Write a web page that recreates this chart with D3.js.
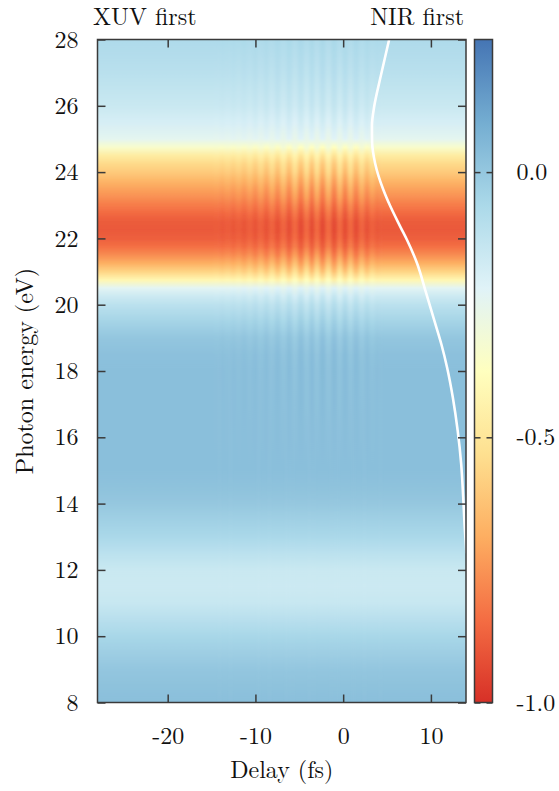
<!DOCTYPE html>
<html>
<head>
<meta charset="utf-8">
<script src="https://cdn.jsdelivr.net/npm/d3@7"></script>
<style>
  body { margin: 0; background: #fff; }
</style>
</head>
<body>
<div id="chart"></div>
<script>
// photon energy samples (eV) and the map value away from the pulse overlap
var energies = [8, 8.5, 9, 9.5, 10, 10.5, 11, 11.5, 12, 12.5, 13, 13.5, 14, 14.5, 15,
  16, 17, 18, 18.5, 19, 19.5, 20, 20.25, 20.5, 20.75, 21, 21.25, 21.5, 21.75, 22,
  22.25, 22.5, 22.75, 23, 23.25, 23.5, 23.75, 24, 24.25, 24.5, 24.75, 25, 25.5, 26, 27, 28];
var baseline = [0.03, 0.02, 0.005, -0.025, -0.055, -0.10, -0.145, -0.16, -0.15, -0.11, -0.06, -0.03, 0.0, 0.02, 0.03,
  0.03, 0.03, 0.03, 0.025, 0.005, -0.045, -0.11, -0.16, -0.23, -0.42, -0.57, -0.68, -0.77, -0.84, -0.88,
  -0.895, -0.89, -0.855, -0.81, -0.76, -0.714, -0.66, -0.6, -0.55, -0.47, -0.34, -0.24, -0.19, -0.15, -0.105, -0.07];
// how strongly each energy row follows the sub-cycle fringes
var fringeWeight = [0, 0, 0, 0, 0, 0, 0, 0, 0, 0, 0, 0, 0, 0, 0,
  -0.005, -0.01, -0.015, -0.018, -0.02, -0.022, -0.025, -0.028, -0.022, 0.04, 0.06, 0.06, 0.055, 0.045, 0.04,
  0.04, 0.04, 0.045, 0.05, 0.055, 0.06, 0.06, 0.06, 0.055, 0.045, 0.035, -0.022, -0.022, -0.02, -0.016, -0.012];

// fringe stripes (delay in fs, light = +, dark = -)
var fringeDelays = [-14.45, -13.82, -13.18, -12.55, -11.91, -11.28, -10.64, -10.0, -9.37, -8.74,
  -8.1, -7.47, -6.83, -6.15, -5.5, -4.82, -4.15, -3.57, -3.0, -2.35,
  -1.7, -1.02, -0.37, 0.22, 0.8, 1.46, 2.12, 2.7, 3.28, 3.9];
var fringeValues = [0.1, -0.12, 0.15, -0.18, 0.22, -0.27, 0.33, -0.38, 0.45, -0.5,
  0.58, -0.62, 0.72, -0.75, 0.85, -0.88, 0.95, -0.95, 1.0, -1.0,
  1.0, -1.0, 0.95, -0.92, 0.88, -0.8, 0.7, -0.55, 0.45, -0.15];

// white curve
var curveDelay = [5.24, 4.2, 3.55, 3.28, 3.3, 3.64, 4.59, 5.39, 6.52, 7.28, 8.42, 9.4, 10.3, 11.2, 11.85, 12.5, 13.05, 13.45, 13.68, 13.85, 14.05];
var curveEnergy = [28, 26.8, 26.0, 25.4, 24.9, 24.27, 23.46, 22.96, 22.35, 21.95, 21.25, 20.4, 19.6, 18.8, 18.1, 17.2, 16.2, 15.2, 14.2, 13.3, 12.5];

var xTicks = [-20, -10, 0, 10];
var yTicks = [8, 10, 12, 14, 16, 18, 20, 22, 24, 26, 28];
var cbTicks = [-1.0, -0.5, 0.0];

var W = 559, H = 791;
var plot = { left: 97.5, right: 466, top: 39.5, bottom: 702.5 };
var cb = { left: 474.5, right: 492.5 };
var FONT = "'Latin Modern Roman', 'Liberation Serif', serif";

var svg = d3.select("#chart").append("svg")
  .attr("width", W).attr("height", H);
var defs = svg.append("defs");

var x = d3.scaleLinear().domain([-28, 14]).range([plot.left, plot.right]);
var y = d3.scaleLinear().domain([8, 28]).range([plot.bottom, plot.top]);

// RdYlBu spread over the colorbar range
var cbDomain = [-1.0, 0.25];
var cols = d3.schemeRdYlBu[9];
var color = d3.scaleLinear()
  .domain(cols.map(function(c, i) { return cbDomain[0] + i * (cbDomain[1] - cbDomain[0]) / 8; }))
  .range(cols)
  .clamp(true);

// columns: plain ones outside the fringe region, one per stripe inside
var columns = [];
var n = fringeDelays.length;
var halfStep = (fringeDelays[1] - fringeDelays[0]) / 2;
var firstEdge = fringeDelays[0] - halfStep;
var lastEdge = fringeDelays[n - 1] + halfStep;
columns.push({ x0: -30, x1: firstEdge, f: 0 });
for (var i = 0; i < n; i++) {
  var a = i == 0 ? firstEdge : (fringeDelays[i - 1] + fringeDelays[i]) / 2;
  var b = i == n - 1 ? lastEdge : (fringeDelays[i] + fringeDelays[i + 1]) / 2;
  columns.push({ x0: a, x1: b, f: fringeValues[i] });
}
columns.push({ x0: lastEdge, x1: 16, f: 0 });

// gradient runs top (28 eV) to bottom (8 eV), so stops go in reverse energy order
var rowOrder = d3.range(energies.length).reverse();
columns.forEach(function(c, j) {
  var g = defs.append("linearGradient")
    .attr("id", "col" + j)
    .attr("gradientUnits", "userSpaceOnUse")
    .attr("x1", 0).attr("x2", 0)
    .attr("y1", y(28)).attr("y2", y(8));
  rowOrder.forEach(function(k) {
    g.append("stop")
      .attr("offset", (y(energies[k]) - y(28)) / (y(8) - y(28)))
      .attr("stop-color", color(baseline[k] + c.f * fringeWeight[k]));
  });
});

defs.append("clipPath").attr("id", "plotClip")
  .append("rect")
  .attr("x", plot.left).attr("y", plot.top)
  .attr("width", plot.right - plot.left).attr("height", plot.bottom - plot.top);

var blur = defs.append("filter").attr("id", "hblur")
  .attr("x", "-5%").attr("y", "0%").attr("width", "110%").attr("height", "100%");
blur.append("feGaussianBlur").attr("stdDeviation", "1.8 0");

var map = svg.append("g").attr("clip-path", "url(#plotClip)");
map.append("g").attr("filter", "url(#hblur)")
  .selectAll("rect")
  .data(columns)
  .enter().append("rect")
  .attr("x", function(d) { return x(d.x0); })
  .attr("width", function(d) { return x(d.x1) - x(d.x0) + 0.6; })
  .attr("y", y(28))
  .attr("height", y(8) - y(28))
  .attr("fill", function(d, j) { return "url(#col" + j + ")"; });

// white curve
var curvePts = curveDelay.map(function(d, i) { return [d, curveEnergy[i]]; });
map.append("path")
  .datum(curvePts)
  .attr("fill", "none")
  .attr("stroke", "#fff")
  .attr("stroke-width", 2.6)
  .attr("d", d3.line()
    .x(function(d) { return x(d[0]); })
    .y(function(d) { return y(d[1]); })
    .curve(d3.curveMonotoneY));

// axes, ticks pointing inward
var fmt = function(d) { return String(d); };
var tickColor = "#3a3a3a";

function styleAxis(g) {
  g.attr("font-family", FONT);
  g.select(".domain").remove();
  g.selectAll(".tick line").attr("stroke", tickColor).attr("stroke-width", 1.5);
  g.selectAll("text").style("font-size", "24px").style("font-family", FONT).attr("fill", "#111");
}

svg.append("g")
  .attr("transform", "translate(" + plot.left + ",0)")
  .call(d3.axisLeft(y).tickValues(yTicks).tickFormat(fmt).tickSizeInner(-8).tickSizeOuter(0).tickPadding(19))
  .call(styleAxis);
svg.append("g")
  .attr("transform", "translate(" + plot.right + ",0)")
  .call(d3.axisRight(y).tickValues(yTicks).tickFormat("").tickSizeInner(-8).tickSizeOuter(0))
  .call(styleAxis);
svg.append("g")
  .attr("transform", "translate(0," + plot.bottom + ")")
  .call(d3.axisBottom(x).tickValues(xTicks).tickFormat(fmt).tickSizeInner(-8).tickSizeOuter(0).tickPadding(24))
  .call(styleAxis);
svg.append("g")
  .attr("transform", "translate(0," + plot.top + ")")
  .call(d3.axisTop(x).tickValues(xTicks).tickFormat("").tickSizeInner(-8).tickSizeOuter(0))
  .call(styleAxis);

svg.append("rect")
  .attr("x", plot.left).attr("y", plot.top)
  .attr("width", plot.right - plot.left).attr("height", plot.bottom - plot.top)
  .attr("fill", "none").attr("stroke", tickColor).attr("stroke-width", 1.5);

// colorbar
var cy = d3.scaleLinear().domain(cbDomain).range([plot.bottom, plot.top]);
var cbGrad = defs.append("linearGradient")
  .attr("id", "cbGrad")
  .attr("gradientUnits", "userSpaceOnUse")
  .attr("x1", 0).attr("x2", 0)
  .attr("y1", cy(cbDomain[1])).attr("y2", cy(cbDomain[0]));
color.domain().slice().reverse().forEach(function(v) {
  cbGrad.append("stop")
    .attr("offset", (cy(v) - cy(cbDomain[1])) / (cy(cbDomain[0]) - cy(cbDomain[1])))
    .attr("stop-color", color(v));
});
svg.append("rect")
  .attr("x", cb.left).attr("y", plot.top)
  .attr("width", cb.right - cb.left).attr("height", plot.bottom - plot.top)
  .attr("fill", "url(#cbGrad)");

var cbFmt = function(d) { return d3.format(".1f")(d).replace("\u2212", "-"); };
svg.append("g")
  .attr("transform", "translate(" + cb.right + ",0)")
  .call(d3.axisRight(cy).tickValues(cbTicks).tickFormat(cbFmt).tickSizeInner(-6).tickSizeOuter(0).tickPadding(24))
  .call(styleAxis);
svg.append("g")
  .attr("transform", "translate(" + cb.left + ",0)")
  .call(d3.axisLeft(cy).tickValues(cbTicks).tickFormat("").tickSizeInner(-6).tickSizeOuter(0))
  .call(styleAxis);
svg.append("rect")
  .attr("x", cb.left).attr("y", plot.top)
  .attr("width", cb.right - cb.left).attr("height", plot.bottom - plot.top)
  .attr("fill", "none").attr("stroke", tickColor).attr("stroke-width", 1.5);

// labels
function label(sel) {
  return sel.style("font-size", "24px").style("font-family", FONT).attr("fill", "#111");
}
svg.append("text")
  .attr("x", (plot.left + plot.right) / 2).attr("y", 778)
  .attr("text-anchor", "middle").call(label)
  .text("Delay (fs)");
svg.append("text")
  .attr("transform", "translate(33," + ((plot.top + plot.bottom) / 2) + ") rotate(-90)")
  .attr("text-anchor", "middle").call(label)
  .text("Photon energy (eV)");
svg.append("text")
  .attr("x", 93).attr("y", 25).call(label)
  .text("XUV first");
svg.append("text")
  .attr("x", 464).attr("y", 25)
  .attr("text-anchor", "end").call(label)
  .text("NIR first");
</script>
</body>
</html>
